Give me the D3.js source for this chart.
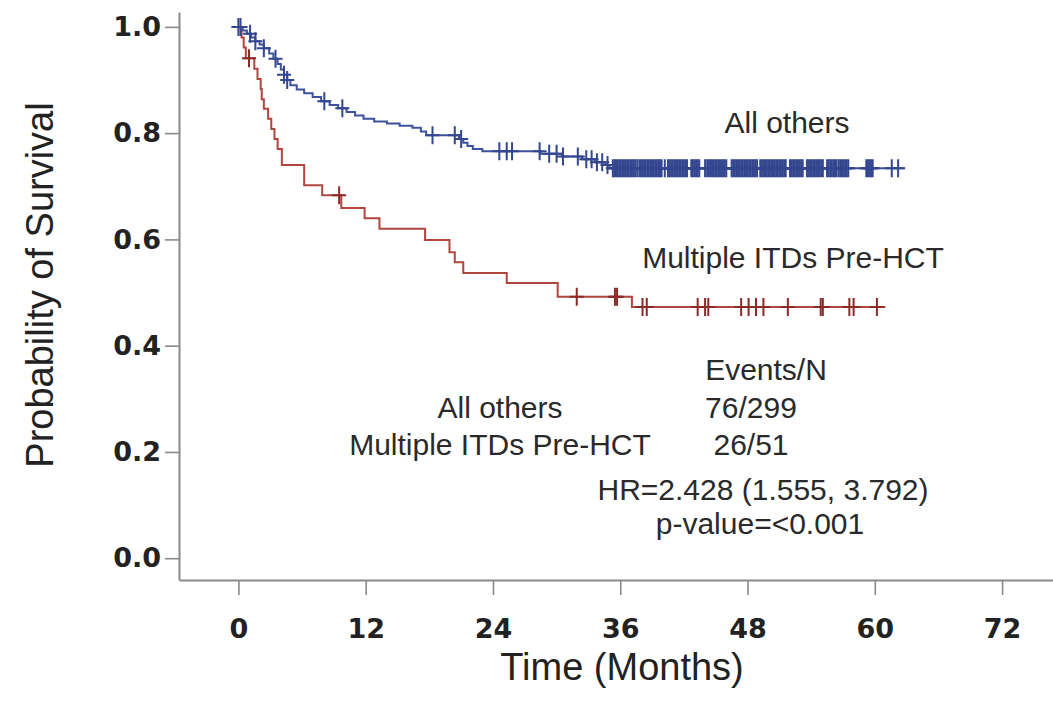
<!DOCTYPE html>
<html>
<head>
<meta charset="utf-8">
<script src="https://cdn.jsdelivr.net/npm/d3@7"></script>
<style>
  body { margin: 0; background: #fff; }
  svg { display: block; }
</style>
</head>
<body>
<div id="chart"></div>
<script>
// axis ticks
var xTicks = [0, 12, 24, 36, 48, 60, 72];
var yTicks = [0, 0.2, 0.4, 0.6, 0.8, 1.0];

// "All others" group: event times (months) and survival after each drop
var othersTime = [0.4, 0.8, 1.2, 1.6, 2.0, 2.4, 2.9, 3.3, 3.7, 4.0, 4.3, 4.6, 4.9, 5.5, 6.2, 7.0,
  7.8, 8.6, 9.4, 10.2, 11.0, 11.8, 12.8, 14.0, 15.2, 16.4, 17.2, 17.7, 20.8, 21.2, 21.6, 22.1,
  23.0, 28.5, 30.5, 32.4, 33.6, 34.6, 35.0];
var othersSurv = [0.993, 0.987, 0.980, 0.973, 0.967, 0.960, 0.950, 0.940, 0.930, 0.920, 0.910,
  0.900, 0.890, 0.882, 0.875, 0.868, 0.860, 0.853, 0.847, 0.840, 0.833, 0.827, 0.822, 0.818,
  0.814, 0.810, 0.803, 0.796, 0.789, 0.782, 0.776, 0.770, 0.766, 0.761, 0.756, 0.751, 0.745,
  0.740, 0.734];
var othersCensor = [0.0, 0.2, 1.1, 1.6, 2.4, 3.5, 4.3, 4.6, 8.1, 9.8, 18.3, 20.4, 21.0, 24.6,
  25.3, 25.8, 28.4, 29.3, 30.0, 30.6, 32.0, 32.8, 33.3, 33.8, 34.3, 34.8,
  35.3, 35.45, 35.6, 35.75, 35.9, 36.05, 36.2, 36.35, 36.5, 36.65, 36.8, 36.95, 37.1, 37.25, 37.4, 37.6,
  37.8, 37.95, 38.1, 38.25, 38.4, 38.55, 38.7, 38.85, 39.0, 39.15, 39.3, 39.45, 39.6, 39.75, 39.9, 40.2,
  40.5, 40.65, 40.8, 40.95, 41.1, 41.25, 41.4, 41.55, 41.7, 41.85, 42.0, 42.15, 42.3,
  42.7, 42.85, 43.0, 43.15, 43.3, 43.45, 44.0,
  44.2, 44.35, 44.5, 44.65, 44.8, 44.95, 45.1, 45.25, 45.4, 45.55, 45.7, 45.85, 46.0,
  46.5, 46.65, 46.8, 46.95, 47.1, 47.25, 47.4, 47.55, 47.7, 47.85, 48.0, 48.15, 48.3, 48.45,
  48.6, 48.75, 48.9,
  49.2, 49.35, 49.5, 49.65, 49.8, 49.95, 50.1, 50.25, 50.4, 50.55, 50.7, 50.85, 51.0, 51.15,
  51.3, 51.45, 51.6,
  52.0, 52.15, 52.3, 52.45, 52.6, 52.75, 52.9, 53.05, 53.2,
  53.6, 53.75, 53.9, 54.05, 54.2, 54.35, 54.5, 54.65, 54.8, 54.95, 55.1,
  55.5, 55.65, 55.8, 55.95, 56.1, 56.25, 56.4, 56.6, 56.75, 56.9, 57.05, 57.2, 57.35, 57.5,
  59.2, 59.35, 59.5, 59.65, 59.8, 61.6, 62.2];
var othersEnd = 62.8;

// "Multiple ITDs Pre-HCT" group
var multiTime = [0.3, 0.5, 0.7, 1.5, 1.8, 2.1, 2.2, 2.4, 2.8, 3.1, 3.4, 3.7, 4.1, 6.2, 7.9,
  9.7, 11.9, 13.3, 17.6, 19.9, 20.4, 21.2, 25.3, 30.1, 37.1];
var multiSurv = [0.980, 0.961, 0.941, 0.921, 0.902, 0.883, 0.864, 0.846, 0.827, 0.808, 0.789,
  0.770, 0.740, 0.702, 0.683, 0.659, 0.640, 0.620, 0.599, 0.576, 0.557, 0.537, 0.518, 0.492,
  0.473];
var multiCensor = [1.0, 9.5, 31.9, 35.5, 35.7, 38.1, 38.5, 43.3, 44.0, 44.3, 47.4, 48.1, 48.8,
  49.5, 51.8, 54.9, 55.1, 57.6, 58.0, 60.2];
var multiEnd = 61.0;

var width = 1053, height = 702;

var svg = d3.select("#chart").append("svg")
  .attr("width", width)
  .attr("height", height);

var x = d3.scaleLinear().domain([-5.6, 76.8]).range([179, 1053]);
var y = d3.scaleLinear().domain([-0.041, 1.028]).range([580, 12]);

var axisColor = "#8a8a8a",
  textColor = "#222";

// x axis
var gx = svg.append("g")
  .attr("transform", "translate(0,580)")
  .call(d3.axisBottom(x).tickValues(xTicks).tickSize(15).tickSizeOuter(0)
    .tickPadding(24).tickFormat(d3.format("d")));

// y axis
var gy = svg.append("g")
  .attr("transform", "translate(179,0)")
  .call(d3.axisLeft(y).tickValues(yTicks).tickSize(14).tickSizeOuter(0)
    .tickPadding(4).tickFormat(d3.format(".1f")));

[gx, gy].forEach(function (g) {
  g.select(".domain").attr("stroke", axisColor).attr("stroke-width", 2);
  g.selectAll(".tick line").attr("stroke", axisColor).attr("stroke-width", 1.6);
  g.selectAll(".tick text")
    .attr("fill", textColor)
    .style("font-family", "'DejaVu Sans', sans-serif")
    .style("font-weight", "bold")
    .style("font-size", "27px");
});

// axis titles
svg.append("text")
  .attr("x", 622).attr("y", 680)
  .attr("text-anchor", "middle")
  .attr("fill", textColor)
  .style("font-family", "'Liberation Sans', Arial, sans-serif")
  .style("font-size", "38px")
  .text("Time (Months)");

svg.append("text")
  .attr("transform", "translate(53,285) rotate(-90)")
  .attr("text-anchor", "middle")
  .attr("fill", textColor)
  .style("font-family", "'Liberation Sans', Arial, sans-serif")
  .style("font-size", "38px")
  .text("Probability of Survival");

// step curves
var line = d3.line()
  .x(function (d) { return x(d[0]); })
  .y(function (d) { return y(d[1]); })
  .curve(d3.curveStepAfter);

function stepPoints(times, surv, end) {
  var pts = [[0, 1]];
  times.forEach(function (t, i) { pts.push([t, surv[i]]); });
  pts.push([end, surv[surv.length - 1]]);
  return pts;
}

function survAt(times, surv, t) {
  var s = 1;
  for (var i = 0; i < times.length; i++) {
    if (times[i] <= t) s = surv[i];
  }
  return s;
}

var groups = [
  { time: multiTime, surv: multiSurv, censor: multiCensor, end: multiEnd, line: "#b2463f", mark: "#8c2a28" },
  { time: othersTime, surv: othersSurv, censor: othersCensor, end: othersEnd, line: "#3d519e", mark: "#33468f" }
];

groups.forEach(function (g) {
  svg.append("path")
    .datum(stepPoints(g.time, g.surv, g.end))
    .attr("d", line)
    .attr("fill", "none")
    .attr("stroke", g.line)
    .attr("stroke-width", 2);

  svg.append("g")
    .selectAll("path")
    .data(g.censor)
    .enter().append("path")
    .attr("transform", function (d) {
      return "translate(" + x(d) + "," + y(survAt(g.time, g.surv, d)) + ")";
    })
    .attr("d", "M-7,0H7M0,-9V9")
    .attr("fill", "none")
    .attr("stroke", g.mark)
    .attr("stroke-width", 2);
});

// annotations
var notes = [
  { text: "All others", x: 787, y: 133 },
  { text: "Multiple ITDs Pre-HCT", x: 793, y: 268 },
  { text: "Events/N", x: 766, y: 380 },
  { text: "All others", x: 500, y: 418 },
  { text: "76/299", x: 751, y: 418 },
  { text: "Multiple ITDs Pre-HCT", x: 500, y: 455 },
  { text: "26/51", x: 751, y: 455 },
  { text: "HR=2.428 (1.555, 3.792)", x: 763, y: 500 },
  { text: "p-value=<0.001", x: 760, y: 534 }
];

svg.append("g")
  .selectAll("text")
  .data(notes)
  .enter().append("text")
  .attr("x", function (d) { return d.x; })
  .attr("y", function (d) { return d.y; })
  .attr("text-anchor", "middle")
  .attr("fill", "#2a2a2a")
  .style("font-family", "'Liberation Sans', Arial, sans-serif")
  .style("font-size", "30px")
  .text(function (d) { return d.text; });
</script>
</body>
</html>
